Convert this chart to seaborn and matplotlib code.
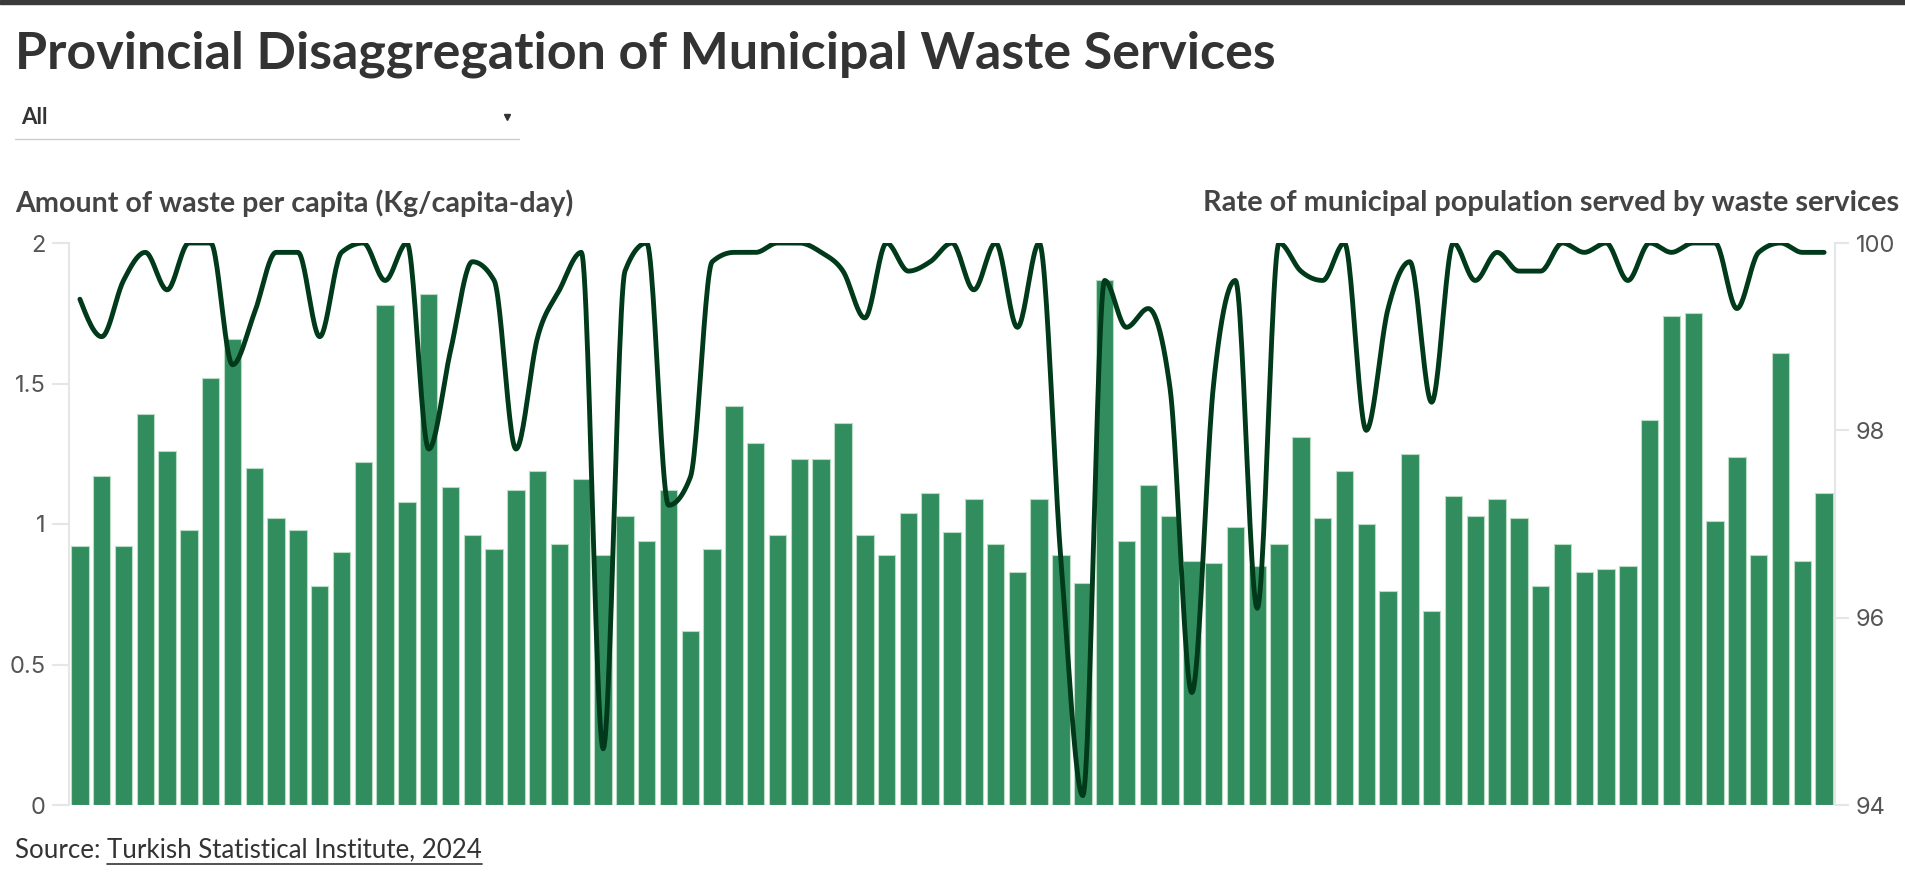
import numpy as np
import pandas as pd
import matplotlib
matplotlib.use("Agg")
import matplotlib.pyplot as plt
from matplotlib.lines import Line2D
from matplotlib.patches import Rectangle
import seaborn as sns

# provinces in plate-code order
provinces = [
    "Adana", "Adıyaman", "Afyonkarahisar", "Ağrı", "Amasya", "Ankara", "Antalya", "Artvin", "Aydın", "Balıkesir",
    "Bilecik", "Bingöl", "Bitlis", "Bolu", "Burdur", "Bursa", "Çanakkale", "Çankırı", "Çorum", "Denizli",
    "Diyarbakır", "Edirne", "Elazığ", "Erzincan", "Erzurum", "Eskişehir", "Gaziantep", "Giresun", "Gümüşhane", "Hakkari",
    "Hatay", "Isparta", "Mersin", "İstanbul", "İzmir", "Kars", "Kastamonu", "Kayseri", "Kırklareli", "Kırşehir",
    "Kocaeli", "Konya", "Kütahya", "Malatya", "Manisa", "Kahramanmaraş", "Mardin", "Muğla", "Muş", "Nevşehir",
    "Niğde", "Ordu", "Rize", "Sakarya", "Samsun", "Siirt", "Sinop", "Sivas", "Tekirdağ", "Tokat",
    "Trabzon", "Tunceli", "Şanlıurfa", "Uşak", "Van", "Yozgat", "Zonguldak", "Aksaray", "Bayburt", "Karaman",
    "Kırıkkale", "Batman", "Şırnak", "Bartın", "Ardahan", "Iğdır", "Yalova", "Karabük", "Kilis", "Osmaniye",
    "Düzce",
]

# kg/capita-day
waste_per_capita = [
    0.92, 1.17, 0.92, 1.39, 1.26, 0.98, 1.52, 1.66, 1.20, 1.02,
    0.98, 0.78, 0.90, 1.22, 1.78, 1.08, 1.82, 1.13, 0.96, 0.91,
    1.12, 1.19, 0.93, 1.16, 0.89, 1.03, 0.94, 1.12, 0.62, 0.91,
    1.42, 1.29, 0.96, 1.23, 1.23, 1.36, 0.96, 0.89, 1.04, 1.11,
    0.97, 1.09, 0.93, 0.83, 1.09, 0.89, 0.79, 1.87, 0.94, 1.14,
    1.03, 0.87, 0.86, 0.99, 0.85, 0.93, 1.31, 1.02, 1.19, 1.00,
    0.76, 1.25, 0.69, 1.10, 1.03, 1.09, 1.02, 0.78, 0.93, 0.83,
    0.84, 0.85, 1.37, 1.74, 1.75, 1.01, 1.24, 0.89, 1.61, 0.87,
    1.11,
]

# % of municipal population served
served_rate = [
    99.4, 99.0, 99.6, 99.9, 99.5, 100, 100, 98.7, 99.25, 99.9,
    99.9, 99.0, 99.9, 100, 99.6, 100, 97.8, 98.85, 99.8, 99.6,
    97.8, 99.0, 99.5, 99.9, 94.6, 99.7, 100, 97.2, 97.5, 99.8,
    99.9, 99.9, 100, 100, 99.9, 99.7, 99.2, 100, 99.7, 99.8,
    100, 99.5, 100, 99.1, 100, 96.6, 94.1, 99.6, 99.1, 99.3,
    98.45, 95.2, 98.5, 99.6, 96.1, 100, 99.7, 99.6, 100, 98.0,
    99.3, 99.8, 98.3, 100, 99.6, 99.9, 99.7, 99.7, 100, 99.9,
    100, 99.6, 100, 99.9, 100, 100, 99.3, 99.9, 100, 99.9,
    99.9,
]

left_ticks = [0, 0.5, 1, 1.5, 2]
left_labels = ["0", "0.5", "1", "1.5", "2"]
right_ticks = [94, 96, 98, 100]

W, H = 1906, 877
BAR = "#318d5e"
LINE = "#003a1a"
AXC = "#e6e6e6"


def monotone_x(y, n=24):
    # d3 curveMonotoneX style cubic through the points
    y = np.asarray(y, float)
    x = np.arange(len(y), dtype=float)
    h = np.diff(x)
    s = np.diff(y) / h
    t = np.zeros_like(y)
    for i in range(1, len(y) - 1):
        s0, s1 = s[i - 1], s[i]
        p = (s0 * h[i] + s1 * h[i - 1]) / (h[i - 1] + h[i])
        sg = (1 if s0 >= 0 else -1) + (1 if s1 >= 0 else -1)
        t[i] = sg * min(abs(s0), abs(s1), 0.5 * abs(p))
    t[0] = (3 * s[0] - t[1]) / 2
    t[-1] = (3 * s[-1] - t[-2]) / 2
    xs, ys = [], []
    u = np.linspace(0, 1, n, endpoint=False)
    for i in range(len(y) - 1):
        h00 = 2 * u**3 - 3 * u**2 + 1
        h10 = u**3 - 2 * u**2 + u
        h01 = -2 * u**3 + 3 * u**2
        h11 = u**3 - u**2
        xs.append(x[i] + u * h[i])
        ys.append(h00 * y[i] + h10 * h[i] * t[i] + h01 * y[i + 1] + h11 * h[i] * t[i + 1])
    xs.append([x[-1]])
    ys.append([y[-1]])
    return np.concatenate(xs), np.concatenate(ys)


sns.set_style("white")
plt.rcParams["font.family"] = ["Lato", "DejaVu Sans"]

df = pd.DataFrame({"province": provinces, "waste": waste_per_capita})

fig = plt.figure(figsize=(W / 100, H / 100), dpi=100)
ax = fig.add_axes([69 / W, 1 - 805 / H, (1835 - 69) / W, (805 - 243) / H])

sns.barplot(data=df, x="province", y="waste", color=BAR, saturation=1, width=0.8,
            edgecolor="#b8dcc4", linewidth=0.8, ax=ax)
ax.set_ylim(0, 2)
ax.set_xlim(-0.5, len(provinces) - 0.5)
ax.set_xticks([])
ax.set_xlabel(None)
ax.set_ylabel(None)
ax.set_yticks(left_ticks)
ax.set_yticklabels(left_labels)
for side in ["top", "right", "bottom"]:
    ax.spines[side].set_visible(False)
ax.spines["left"].set_color(AXC)
ax.spines["left"].set_linewidth(1.5)
ax.tick_params(axis="y", length=12, width=1.5, color=AXC, labelsize=17,
               labelcolor="#555555", pad=5)

ax2 = ax.twinx()
lx, ly = monotone_x(served_rate)
sns.lineplot(x=lx, y=ly, ax=ax2, color=LINE, linewidth=3.5, estimator=None, sort=False)
ax2.set_ylim(94, 100)
ax2.set_yticks(right_ticks)
ax2.set_ylabel(None)
for side in ["top", "left", "bottom"]:
    ax2.spines[side].set_visible(False)
ax2.spines["right"].set_color(AXC)
ax2.spines["right"].set_linewidth(1.5)
ax2.tick_params(axis="y", length=10, width=1.5, color=AXC, labelsize=17,
                labelcolor="#555555", pad=5)
ax2.set_xlim(-0.5, len(provinces) - 0.5)

for lab in ax.get_yticklabels() + ax2.get_yticklabels():
    lab.set_family(["Inter", "DejaVu Sans"])

# header band
fig.patches.append(Rectangle((0, 1 - 4 / H), 1, 4 / H, transform=fig.transFigure,
                             color="#3a3a3a", zorder=5))

renderer = fig.canvas.get_renderer()


def fit(t, target_w):
    w = t.get_window_extent(renderer).width
    t.set_fontsize(t.get_fontsize() * target_w / w)


title = fig.text(15 / W, 1 - 69 / H, "Provincial Disaggregation of Municipal Waste Services",
                 fontsize=32, weight="bold", color="#333333", va="baseline")
fit(title, 1264)

fig.text(21 / W, 1 - 117 / H, "All", fontsize=16, weight="bold", color="#333333", va="center")
fig.add_artist(Line2D([507 / W], [1 - 117 / H], marker="v", markersize=5, color="#333333",
                      transform=fig.transFigure))
fig.add_artist(Line2D([15 / W, 519 / W], [1 - 139 / H, 1 - 139 / H], color="#cccccc",
                      linewidth=1, transform=fig.transFigure))

lt = fig.text(15 / W, 1 - 203 / H, "Amount of waste per capita (Kg/capita-day)",
              fontsize=17, weight="bold", color="#444444", va="center")
fit(lt, 559)
rt = fig.text(1899 / W, 1 - 203 / H, "Rate of municipal population served by waste services",
              fontsize=17, weight="bold", color="#444444", va="center", ha="right")
fit(rt, 698)

src = fig.text(15 / W, 1 - 850 / H, "Source: ", fontsize=15, color="#333333", va="center")
fit(src, 92)
sw = src.get_window_extent(renderer)
link = fig.text(sw.x1 / W, 1 - 850 / H, "Turkish Statistical Institute, 2024",
                fontsize=src.get_fontsize(), color="#333333", va="center")
lw_ = link.get_window_extent(renderer)
fig.add_artist(Line2D([lw_.x0 / W, lw_.x1 / W], [(lw_.y0 - 1) / H, (lw_.y0 - 1) / H],
                      color="#333333", linewidth=1.2, transform=fig.transFigure))

fig.savefig("out.png", dpi=100)
